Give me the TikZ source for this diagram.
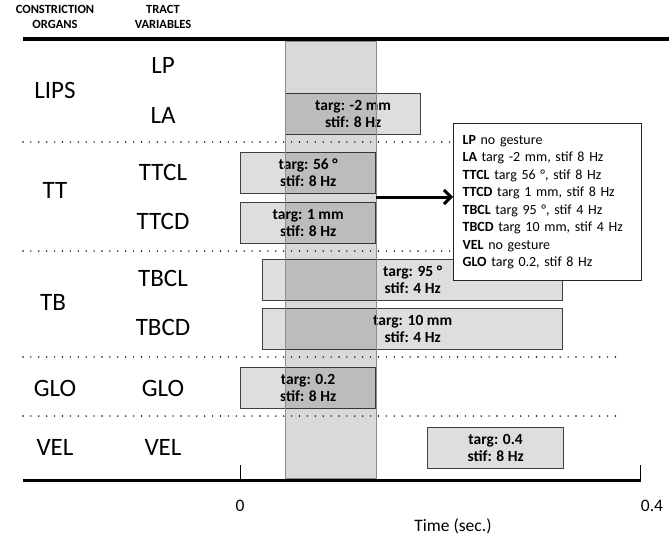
\documentclass[tikz,border=0pt]{standalone}
\usepackage{fontspec}
\setmainfont{Carlito}
\usetikzlibrary{arrows.meta}
\begin{document}
\begin{tikzpicture}[x=1pt,y=-1pt,
  lbl/.style={font=\fontsize{25}{27}\selectfont},
  hdr/.style={font=\fontsize{12.5}{14.5}\selectfont\bfseries,align=center},
  gest/.style={draw=black!75,line width=1.3pt,fill=black!13,anchor=north west,
    minimum height=41pt,align=center,inner sep=0pt,
    font=\fontsize{15.5}{17}\selectfont\bfseries},
  sepline/.style={line width=1.6pt,line cap=round,dash pattern=on 0pt off 7.9pt},
  axlbl/.style={font=\fontsize{17.5}{19}\selectfont}]
\useasboundingbox (0,0) rectangle (669,536);

% headers
\node[hdr] (hco) at (55,17) {CONSTRICTION\\ORGANS};
\node[hdr] (htv) at (163,17) {TRACT\\VARIABLES};
\draw[line width=3.5pt] (23,39) -- (669,39);

% separators
\draw[sepline] (23,142) -- (620,142);
\draw[sepline] (23,251) -- (620,251);
\draw[sepline] (23,357) -- (620,357);
\draw[sepline] (23,416) -- (620,416);

% organs
\node[lbl] (lips) at (55,90) {LIPS};
\node[lbl] (tt) at (55,190) {TT};
\node[lbl] (tb) at (53,302) {TB};
\node[lbl] (glo) at (55,388) {GLO};
\node[lbl] (vel) at (55,447) {VEL};

% tract variables
\node[lbl] (lp) at (163,65) {LP};
\node[lbl] (la) at (163,115) {LA};
\node[lbl] (ttcl) at (163,172) {TTCL};
\node[lbl] (ttcd) at (163,221) {TTCD};
\node[lbl] (tbcl) at (163,278) {TBCL};
\node[lbl] (tbcd) at (163,327) {TBCD};
\node[lbl] (glov) at (163,388) {GLO};
\node[lbl] (velv) at (163,447) {VEL};

% gestures
\node[gest,minimum width=135pt] (gla) at (285,93) {targ: -2 mm\\stif: 8 Hz};
\node[gest,minimum width=135pt] (gttcl) at (240,152) {targ: 56 °\\stif: 8 Hz};
\node[gest,minimum width=135pt] (gttcd) at (240,202) {targ: 1 mm\\stif: 8 Hz};
\node[gest,minimum width=300pt] (gtbcl) at (262,259) {targ: 95 °\\stif: 4 Hz};
\node[gest,minimum width=300pt] (gtbcd) at (262,308) {targ: 10 mm\\stif: 4 Hz};
\node[gest,minimum width=135pt] (gglo) at (240,367) {targ: 0.2\\stif: 8 Hz};
\node[gest,minimum width=136pt] (gvel) at (427,427) {targ: 0.4\\stif: 8 Hz};

% time window
\draw[draw=black!45,line width=1pt,fill=black,fill opacity=.15] (285,41) rectangle (376,478);

% summary
\node[draw=black!85,line width=1.2pt,fill=white,anchor=north west,
  text width=170pt,inner xsep=9pt,minimum height=157pt,align=left,
  font=\fontsize{14}{17.5}\selectfont] (info) at (453,123)
  {\textbf{LP} no gesture\\
   \textbf{LA} targ -2 mm, stif 8 Hz\\
   \textbf{TTCL} targ 56 °, stif 8 Hz\\
   \textbf{TTCD} targ 1 mm, stif 8 Hz\\
   \textbf{TBCL} targ 95 °, stif 4 Hz\\
   \textbf{TBCD} targ 10 mm, stif 4 Hz\\
   \textbf{VEL} no gesture\\
   \textbf{GLO} targ 0.2, stif 8 Hz};
\coordinate (arrs) at (376,197);
\draw[line width=3pt,-{Straight Barb[length=7pt,width=14pt]}] (arrs) -- (arrs -| info.west);

% time axis
\draw[line width=3pt] (23,480) -- (641,480);
\draw[line width=1pt] (240,465) -- (240,480);
\draw[line width=1pt] (640,465) -- (640,480);
\node[axlbl] (t0) at (240,506) {0};
\node[axlbl] (t1) at (652,506) {0.4};
\node[axlbl] (tlab) at (453,526) {Time (sec.)};
\end{tikzpicture}
\end{document}
